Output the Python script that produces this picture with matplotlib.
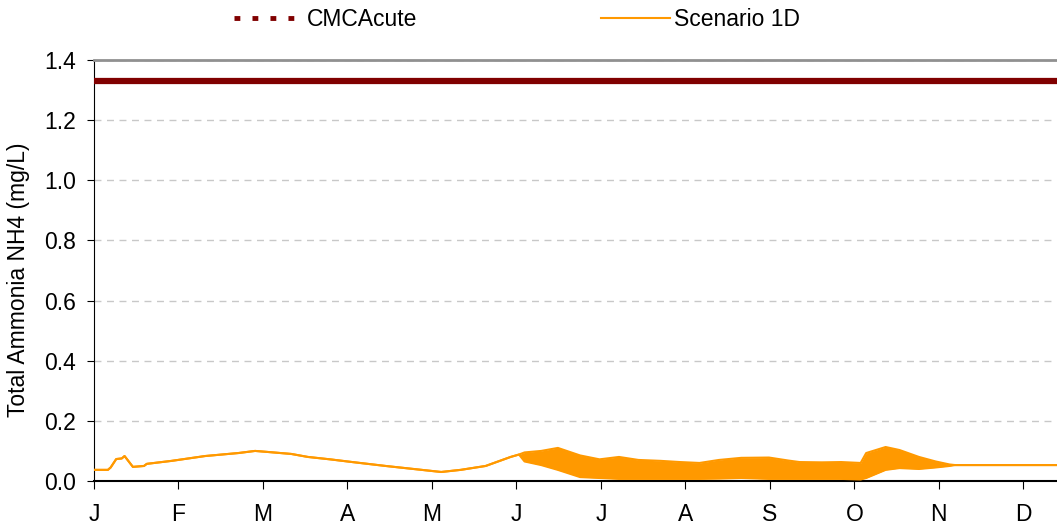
import matplotlib
matplotlib.use("Agg")
import matplotlib.pyplot as plt
from matplotlib.lines import Line2D

# ---- data ----
month_labels = ["J", "F", "M", "A", "M", "J", "J", "A", "S", "O", "N", "D"]
cmc_acute = 1.33

# day of year, upper and lower envelope of the Scenario 1D trace (mg/L)
days = [0, 5, 6, 8, 10, 11, 14, 18, 19, 28, 40, 52, 58, 62, 71, 77, 85, 93,
        105, 115, 125, 132, 141, 150, 153, 155, 161, 167, 175, 182, 189, 196,
        204, 211, 218, 225, 233, 243, 250, 254, 262, 269, 276, 278, 285, 290,
        297, 303, 308, 310, 347]
upper = [0.037, 0.037, 0.045, 0.073, 0.075, 0.083, 0.047, 0.050, 0.057, 0.067,
         0.083, 0.093, 0.100, 0.097, 0.090, 0.080, 0.072, 0.063, 0.050, 0.040,
         0.030, 0.037, 0.050, 0.080, 0.088, 0.095, 0.100, 0.110, 0.085, 0.072,
         0.080, 0.070, 0.067, 0.063, 0.060, 0.070, 0.077, 0.078, 0.068, 0.063,
         0.062, 0.063, 0.060, 0.093, 0.113, 0.103, 0.080, 0.065, 0.055, 0.053,
         0.053]
lower = [0.037, 0.037, 0.045, 0.073, 0.075, 0.083, 0.047, 0.050, 0.057, 0.067,
         0.083, 0.093, 0.100, 0.097, 0.090, 0.080, 0.072, 0.063, 0.050, 0.040,
         0.030, 0.037, 0.050, 0.080, 0.088, 0.065, 0.053, 0.037, 0.013, 0.010,
         0.007, 0.007, 0.007, 0.007, 0.007, 0.008, 0.010, 0.007, 0.007, 0.007,
         0.007, 0.007, 0.005, 0.010, 0.037, 0.043, 0.040, 0.045, 0.050, 0.053,
         0.053]

month_len = 365 / 12.0
x_max = 346.7

plt.rcParams['font.family'] = ['Liberation Sans', 'DejaVu Sans']
FS = 16.5

fig = plt.figure(figsize=(10.57, 5.27), dpi=100)
ax = fig.add_axes([94 / 1057, 46 / 527, 1 - 94 / 1057, 421 / 527])

orange = "#FF9900"
darkred = "#800000"

ax.axhline(cmc_acute, color=darkred, lw=4.5, zorder=3)
ax.fill_between(days, lower, upper, color=orange, lw=0, zorder=3)
ax.plot(days, upper, color=orange, lw=1.5, zorder=3)
ax.plot(days, lower, color=orange, lw=1.5, zorder=3)

ax.set_xlim(0, x_max)
ax.set_ylim(0, 1.4)
yt = [0.0, 0.2, 0.4, 0.6, 0.8, 1.0, 1.2, 1.4]
ax.set_yticks(yt)
ax.set_yticklabels([f"{v:.1f}" for v in yt])
ax.set_xticks([i * month_len for i in range(12)])
ax.set_xticklabels(month_labels)

ax.grid(axis='y', color='#C8C8C8', linestyle=(0, (5, 4)), lw=1)
ax.set_axisbelow(True)

ax.spines['right'].set_visible(False)
ax.spines['top'].set_color('#909090')
ax.spines['top'].set_linewidth(2)
ax.spines['left'].set_color('black')
ax.spines['bottom'].set_color('black')
ax.spines['bottom'].set_linewidth(1.5)

ax.tick_params(axis='y', direction='out', length=5, pad=8, labelsize=FS)
ax.tick_params(axis='x', direction='out', length=6, pad=10, labelsize=FS)

ax.set_ylabel("Total Ammonia NH4 (mg/L)", fontsize=FS)
ax.yaxis.set_label_coords(-64 / 963, 0.477)

handles = [
    Line2D([], [], color=darkred, lw=3.5, linestyle=(0, (1.2, 2.5))),
    Line2D([], [], color=orange, lw=1.5),
]
fig.legend(handles, ["CMCAcute", "Scenario 1D"], loc='center',
           bbox_to_anchor=(517 / 1057, 1 - 20 / 527), ncol=2, frameon=False,
           fontsize=FS, handlelength=3.0, handletextpad=0.2, columnspacing=8.0)

fig.savefig("out.png", dpi=100)
